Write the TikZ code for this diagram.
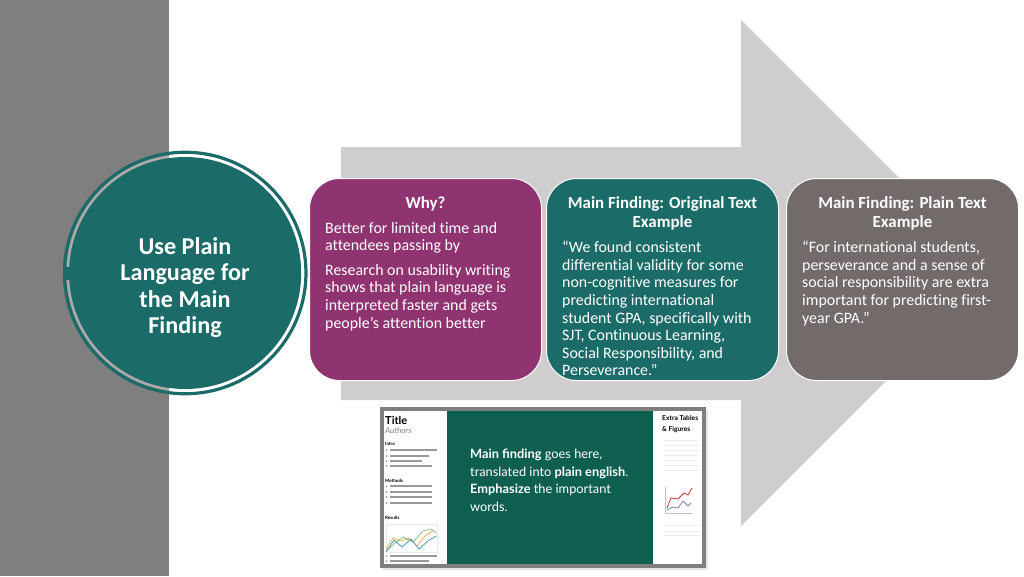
\documentclass[tikz,border=0pt]{standalone}
\usepackage{fontspec}
\setmainfont{Carlito}[Ligatures=CommonOff]
\newfontfamily\latofont{Lato}
\usetikzlibrary{positioning}
\definecolor{bandgrey}{HTML}{7F7F7F}
\definecolor{arrowgrey}{HTML}{CFCDCE}
\definecolor{teal1}{HTML}{1B6B68}
\definecolor{purple1}{HTML}{8F3371}
\definecolor{stone1}{HTML}{726B6A}
\definecolor{posterinset}{HTML}{0F5F50}
\definecolor{barcol}{HTML}{999999}
\tikzstyle{cardbox}=[draw=white,line width=1pt,rounded corners=30pt,minimum width=232pt,minimum height=202pt,inner sep=0pt]
\tikzstyle{cardhead}=[text=white,align=center,font=\fontsize{16.9}{19}\selectfont\bfseries,inner sep=0pt]
\tikzstyle{cardtext}=[text=white,align=left,font=\fontsize{15.9}{17.6}\selectfont,inner sep=0pt]
\tikzstyle{barline}=[barcol,line width=1.5pt]
\begin{document}
\begin{tikzpicture}[x=1pt,y=-1pt]
\useasboundingbox (0,0) rectangle (1024,576);
\fill [white] (0,0) rectangle (1024,576);
\fill [bandgrey] (0,0) rectangle (169,576);
% big arrow behind the cards
\fill [arrowgrey] (341,147) -- (741,147) -- (741,20) -- (994,273) -- (741,526) -- (741,400) -- (341,400) -- cycle;
% circle
\node [circle,draw=teal1,line width=3.2pt,minimum size=241.5pt,inner sep=0pt] (ring) at (185.2,273) {};
\begin{scope}
\clip (0,0) rectangle (169,576);
\draw [black!33,line width=2.5pt] (ring) circle (117.4);
\end{scope}
\node [circle,fill=teal1,minimum size=232pt,inner sep=0pt] (topic) at (ring) {};
\fill [teal1] (65,267) rectangle (72,280);
\node [text=white,align=center,inner sep=0pt,font=\fontsize{24.2}{26.4}\selectfont\bfseries] (topictext) at (185,287.5) {Use Plain\\Language for\\the Main\\Finding};
% cards
\node [cardbox,fill=purple1] (why) at (425.5,279.5) {};
\node [cardbox,fill=teal1,right=4pt of why] (orig) {};
\node [cardbox,fill=stone1,right=7pt of orig] (plain) {};
\node [cardhead,below=18pt of why.north] (whyhead) {Why?};
\node [cardtext,anchor=north west] (whytext) at (325,222) {Better for limited time and\\attendees passing by};
\node [cardtext,anchor=north west] (whymore) at (325,264) {Research on usability writing\\shows that plain language is\\interpreted faster and gets\\people’s attention better};
\node [cardhead,below=18pt of orig.north] (orighead) {Main Finding: Original Text\\Example};
\node [cardtext,anchor=north west] (origtext) at (562,241) {“We found consistent\\differential validity for some\\non-cognitive measures for\\predicting international\\student GPA, specifically with\\SJT, Continuous Learning,\\Social Responsibility, and\\Perseverance.”};
\node [cardhead,below=18pt of plain.north] (plainhead) {Main Finding: Plain Text\\Example};
\node [cardtext,anchor=north west] (plaintext) at (802,241) {“For international students,\\perseverance and a sense of\\social responsibility are extra\\important for predicting first-\\year GPA.”};
% small poster picture
\fill [black!10] (383,410) rectangle (708,570);
\node [draw=bandgrey,line width=3.5pt,fill=white,minimum width=322pt,minimum height=157pt,inner sep=0pt] (poster) at (543,487.5) {};
\fill [posterinset] (447,411) rectangle (653,564);
\node [text=white,anchor=north west,align=left,inner sep=0pt,font=\latofont\fontsize{12.8}{17.5}\selectfont] (postertext) at (470,449) {\textbf{Main finding} goes here,\\translated into \textbf{plain english}.\\\textbf{Emphasize} the important\\words.};
\node [anchor=west,inner sep=0pt,font=\latofont\fontsize{11}{12}\selectfont\bfseries] (postertitle) at (385,420) {Title};
\node [anchor=west,inner sep=0pt,text=black!50,font=\latofont\fontsize{8}{9}\selectfont\itshape] (posterauth) at (385,431) {Authors};
\node [anchor=west,inner sep=0pt,font=\latofont\fontsize{4.5}{5}\selectfont\bfseries] (posterintro) at (385,443.5) {Intro};
\node [anchor=west,inner sep=0pt,font=\latofont\fontsize{4.5}{5}\selectfont\bfseries] (postermeth) at (385,481) {Methods};
\node [anchor=west,inner sep=0pt,font=\latofont\fontsize{4.5}{5}\selectfont\bfseries] (posterres) at (385,518) {Results};
\node [anchor=north west,inner sep=0pt,align=left,font=\latofont\fontsize{6.7}{11}\selectfont\bfseries] (posterextra) at (662,415) {Extra Tables\\\& Figures};
\foreach \ypos/\xend in {450/437,456/429,461/422,466/432,486/432,492/432,497/432,503/432,556/437,561/429} {
  \draw [barline] (390,\ypos) -- (\xend,\ypos);
  \fill [barcol] (386.5,\ypos) circle (1pt);
}
% results chart
\draw [black!8,line width=.4pt] (386,524) rectangle (437,552);
\draw [orange!70,line width=.7pt] (386,549) -- (393,538) -- (401,541) -- (409,538) -- (417,546) -- (425,536) -- (434,530);
\draw [green!50!black!50,line width=.7pt] (386,551) -- (394,544) -- (403,537) -- (413,542) -- (423,531) -- (431,529) -- (436,533);
\draw [cyan!70!black,line width=.7pt] (386,552) -- (394,540) -- (402,547) -- (411,539) -- (419,549) -- (428,541) -- (436,536);
% extra chart and faint table
\draw [black!25,line width=.4pt] (665,487) -- (665,513) -- (692,513);
\draw [red!70!black!80,line width=.8pt] (667,508) -- (671,498) -- (678,499) -- (684,493) -- (688,495) -- (692,488);
\draw [blue!40!black!50,line width=.8pt] (667,510) -- (673,507) -- (678,508) -- (683,501) -- (688,506) -- (691,503);
\foreach \ypos in {440,445,450,455,460,465,470} {
  \draw [black!7,line width=.6pt] (664,\ypos) -- (698,\ypos);
}
\foreach \ypos in {525,531,535} {
  \draw [black!7,line width=.6pt] (664,\ypos) -- (700,\ypos);
}
\end{tikzpicture}
\end{document}
